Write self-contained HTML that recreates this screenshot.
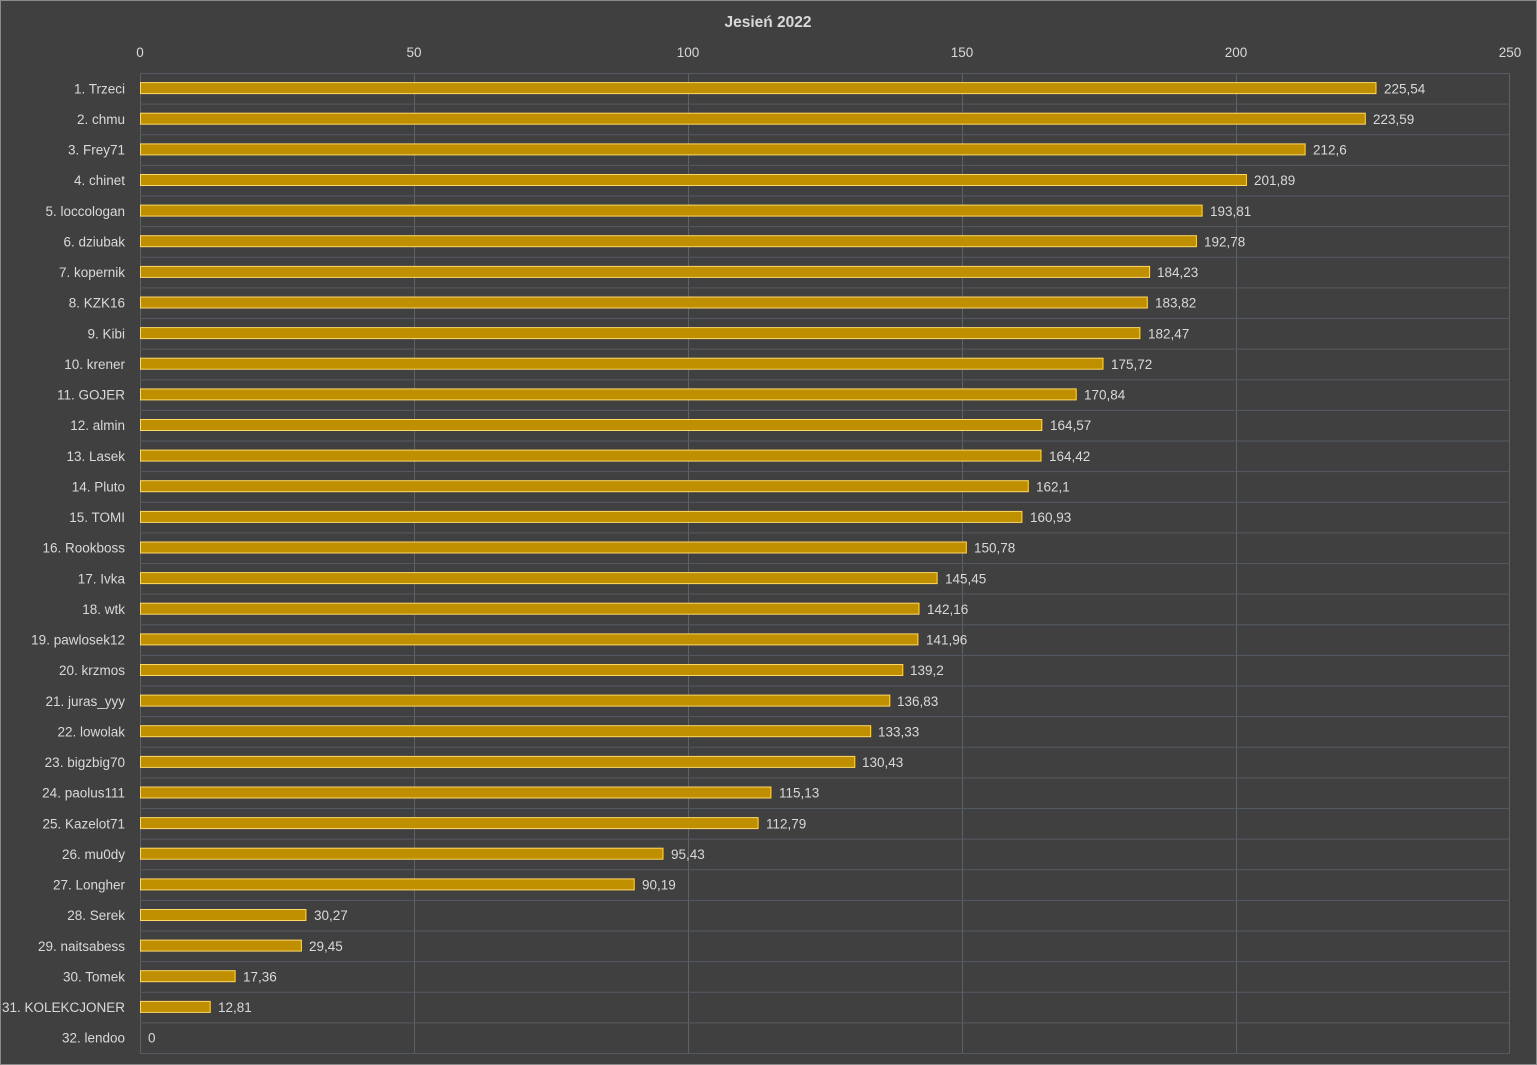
<!DOCTYPE html>
<html><head><meta charset="utf-8"><style>
html,body{margin:0;padding:0;background:#404040;}
svg{display:block;}
text{font-family:"Liberation Sans",sans-serif;font-size:13.5px;fill:#d9d9d9;}
.l{text-anchor:end;}
</style></head><body>
<svg width="1537" height="1065" viewBox="0 0 1537 1065">
<rect x="0.5" y="0.5" width="1536" height="1064" fill="#404040" stroke="#8a8a8a"/>
<text x="768" y="27" text-anchor="middle" style="font-weight:bold;font-size:15.5px">Jesień 2022</text>
<g stroke="#5e6165" stroke-width="1">
<line x1="688.5" y1="73" x2="688.5" y2="1053"/><line x1="962.5" y1="73" x2="962.5" y2="1053"/><line x1="1236.5" y1="73" x2="1236.5" y2="1053"/><line x1="1509.5" y1="73" x2="1509.5" y2="1053"/>
<line x1="140.5" y1="73" x2="140.5" y2="1053"/><line x1="414.5" y1="73" x2="414.5" y2="1053"/>
</g>
<g stroke="#545a62" stroke-width="1">
<line x1="140" x2="1510" y1="73.5" y2="73.5"/><line x1="140" x2="1510" y1="104.1" y2="104.1"/><line x1="140" x2="1510" y1="134.8" y2="134.8"/><line x1="140" x2="1510" y1="165.4" y2="165.4"/><line x1="140" x2="1510" y1="196" y2="196"/><line x1="140" x2="1510" y1="226.6" y2="226.6"/><line x1="140" x2="1510" y1="257.3" y2="257.3"/><line x1="140" x2="1510" y1="287.9" y2="287.9"/><line x1="140" x2="1510" y1="318.5" y2="318.5"/><line x1="140" x2="1510" y1="349.1" y2="349.1"/><line x1="140" x2="1510" y1="379.8" y2="379.8"/><line x1="140" x2="1510" y1="410.4" y2="410.4"/><line x1="140" x2="1510" y1="441" y2="441"/><line x1="140" x2="1510" y1="471.6" y2="471.6"/><line x1="140" x2="1510" y1="502.3" y2="502.3"/><line x1="140" x2="1510" y1="532.9" y2="532.9"/><line x1="140" x2="1510" y1="563.5" y2="563.5"/><line x1="140" x2="1510" y1="594.1" y2="594.1"/><line x1="140" x2="1510" y1="624.8" y2="624.8"/><line x1="140" x2="1510" y1="655.4" y2="655.4"/><line x1="140" x2="1510" y1="686" y2="686"/><line x1="140" x2="1510" y1="716.6" y2="716.6"/><line x1="140" x2="1510" y1="747.3" y2="747.3"/><line x1="140" x2="1510" y1="777.9" y2="777.9"/><line x1="140" x2="1510" y1="808.5" y2="808.5"/><line x1="140" x2="1510" y1="839.1" y2="839.1"/><line x1="140" x2="1510" y1="869.8" y2="869.8"/><line x1="140" x2="1510" y1="900.4" y2="900.4"/><line x1="140" x2="1510" y1="931" y2="931"/><line x1="140" x2="1510" y1="961.6" y2="961.6"/><line x1="140" x2="1510" y1="992.3" y2="992.3"/><line x1="140" x2="1510" y1="1022.9" y2="1022.9"/><line x1="140" x2="1510" y1="1053.5" y2="1053.5"/>
</g>
<g text-anchor="middle">
<text x="140" y="57" text-anchor="middle">0</text><text x="414" y="57" text-anchor="middle">50</text><text x="688" y="57" text-anchor="middle">100</text><text x="962" y="57" text-anchor="middle">150</text><text x="1236" y="57" text-anchor="middle">200</text><text x="1510" y="57" text-anchor="middle">250</text>
</g>
<g fill="#bf8f00" stroke="#ffd966" stroke-width="1">
<rect x="140.5" y="82.6" width="1235.5" height="11"/>
<rect x="140.5" y="113.2" width="1224.8" height="11"/>
<rect x="140.5" y="143.9" width="1164.6" height="11"/>
<rect x="140.5" y="174.5" width="1105.9" height="11"/>
<rect x="140.5" y="205.1" width="1061.6" height="11"/>
<rect x="140.5" y="235.7" width="1055.9" height="11"/>
<rect x="140.5" y="266.4" width="1009.1" height="11"/>
<rect x="140.5" y="297" width="1006.8" height="11"/>
<rect x="140.5" y="327.6" width="999.4" height="11"/>
<rect x="140.5" y="358.2" width="962.5" height="11"/>
<rect x="140.5" y="388.9" width="935.7" height="11"/>
<rect x="140.5" y="419.5" width="901.3" height="11"/>
<rect x="140.5" y="450.1" width="900.5" height="11"/>
<rect x="140.5" y="480.7" width="887.8" height="11"/>
<rect x="140.5" y="511.4" width="881.4" height="11"/>
<rect x="140.5" y="542" width="825.8" height="11"/>
<rect x="140.5" y="572.6" width="796.6" height="11"/>
<rect x="140.5" y="603.2" width="778.5" height="11"/>
<rect x="140.5" y="633.9" width="777.4" height="11"/>
<rect x="140.5" y="664.5" width="762.3" height="11"/>
<rect x="140.5" y="695.1" width="749.3" height="11"/>
<rect x="140.5" y="725.7" width="730.2" height="11"/>
<rect x="140.5" y="756.4" width="714.3" height="11"/>
<rect x="140.5" y="787" width="630.4" height="11"/>
<rect x="140.5" y="817.6" width="617.6" height="11"/>
<rect x="140.5" y="848.2" width="522.5" height="11"/>
<rect x="140.5" y="878.9" width="493.7" height="11"/>
<rect x="140.5" y="909.5" width="165.4" height="11"/>
<rect x="140.5" y="940.1" width="160.9" height="11"/>
<rect x="140.5" y="970.7" width="94.6" height="11"/>
<rect x="140.5" y="1001.4" width="69.7" height="11"/>
</g>
<g class="l">
<text class="l" x="125" y="93.3">1. Trzeci</text>
<text class="l" x="125" y="123.9">2. chmu</text>
<text class="l" x="125" y="154.6">3. Frey71</text>
<text class="l" x="125" y="185.2">4. chinet</text>
<text class="l" x="125" y="215.8">5. loccologan</text>
<text class="l" x="125" y="246.4">6. dziubak</text>
<text class="l" x="125" y="277.1">7. kopernik</text>
<text class="l" x="125" y="307.7">8. KZK16</text>
<text class="l" x="125" y="338.3">9. Kibi</text>
<text class="l" x="125" y="368.9">10. krener</text>
<text class="l" x="125" y="399.6">11. GOJER</text>
<text class="l" x="125" y="430.2">12. almin</text>
<text class="l" x="125" y="460.8">13. Lasek</text>
<text class="l" x="125" y="491.4">14. Pluto</text>
<text class="l" x="125" y="522.1">15. TOMI</text>
<text class="l" x="125" y="552.7">16. Rookboss</text>
<text class="l" x="125" y="583.3">17. Ivka</text>
<text class="l" x="125" y="613.9">18. wtk</text>
<text class="l" x="125" y="644.6">19. pawlosek12</text>
<text class="l" x="125" y="675.2">20. krzmos</text>
<text class="l" x="125" y="705.8">21. juras_yyy</text>
<text class="l" x="125" y="736.4">22. lowolak</text>
<text class="l" x="125" y="767.1">23. bigzbig70</text>
<text class="l" x="125" y="797.7">24. paolus111</text>
<text class="l" x="125" y="828.3">25. Kazelot71</text>
<text class="l" x="125" y="858.9">26. mu0dy</text>
<text class="l" x="125" y="889.6">27. Longher</text>
<text class="l" x="125" y="920.2">28. Serek</text>
<text class="l" x="125" y="950.8">29. naitsabess</text>
<text class="l" x="125" y="981.4">30. Tomek</text>
<text class="l" x="125" y="1012.1">31. KOLEKCJONER</text>
<text class="l" x="125" y="1042.7">32. lendoo</text>
</g>
<g>
<text x="1384" y="93.3">225,54</text>
<text x="1373" y="123.9">223,59</text>
<text x="1313" y="154.6">212,6</text>
<text x="1254" y="185.2">201,89</text>
<text x="1210" y="215.8">193,81</text>
<text x="1204" y="246.4">192,78</text>
<text x="1157" y="277.1">184,23</text>
<text x="1155" y="307.7">183,82</text>
<text x="1148" y="338.3">182,47</text>
<text x="1111" y="368.9">175,72</text>
<text x="1084" y="399.6">170,84</text>
<text x="1050" y="430.2">164,57</text>
<text x="1049" y="460.8">164,42</text>
<text x="1036" y="491.4">162,1</text>
<text x="1030" y="522.1">160,93</text>
<text x="974" y="552.7">150,78</text>
<text x="945" y="583.3">145,45</text>
<text x="927" y="613.9">142,16</text>
<text x="926" y="644.6">141,96</text>
<text x="910" y="675.2">139,2</text>
<text x="897" y="705.8">136,83</text>
<text x="878" y="736.4">133,33</text>
<text x="862" y="767.1">130,43</text>
<text x="779" y="797.7">115,13</text>
<text x="766" y="828.3">112,79</text>
<text x="671" y="858.9">95,43</text>
<text x="642" y="889.6">90,19</text>
<text x="314" y="920.2">30,27</text>
<text x="309" y="950.8">29,45</text>
<text x="243" y="981.4">17,36</text>
<text x="218" y="1012.1">12,81</text>
<text x="148" y="1042.7">0</text>
</g>
</svg>
</body></html>
